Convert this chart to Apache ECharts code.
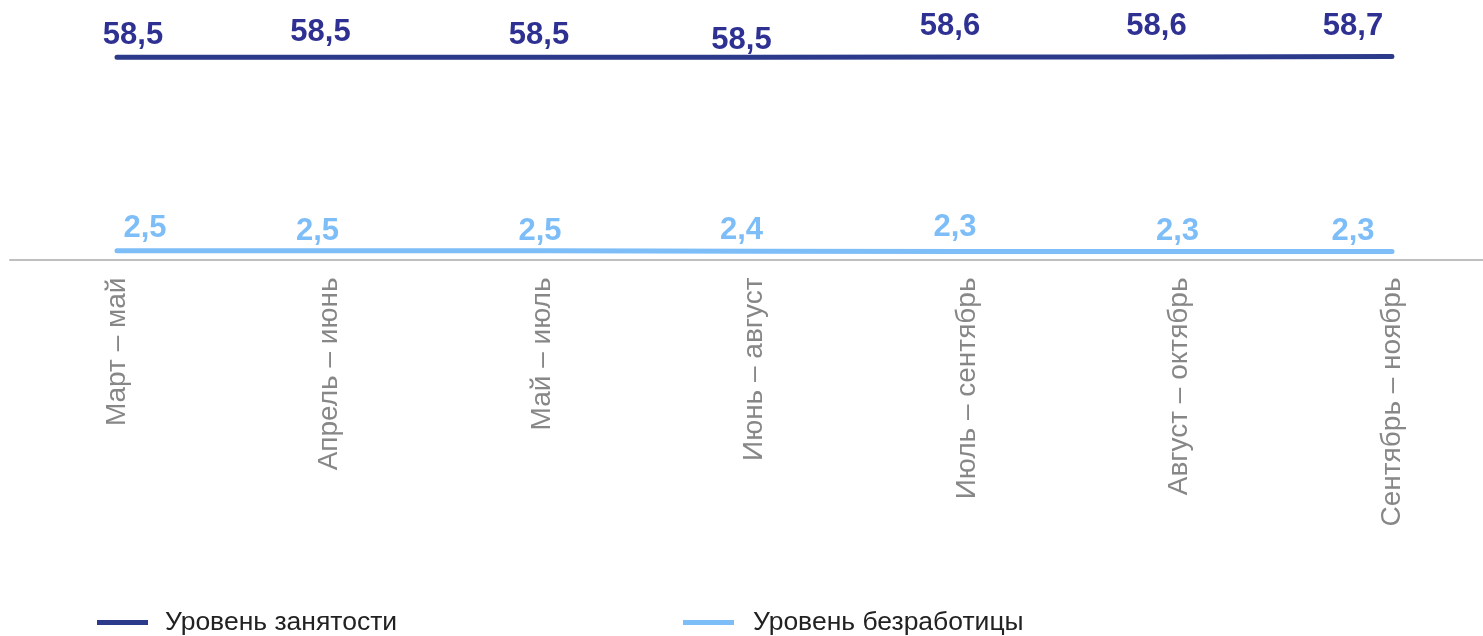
<!DOCTYPE html>
<html>
<head>
<meta charset="utf-8">
<script src="https://cdn.jsdelivr.net/npm/echarts@6/dist/echarts.min.js"></script>
<style>
html,body{margin:0;padding:0;background:#fff;}
#chart{width:1483px;height:636px;}
</style>
</head>
<body>
<div id="chart"></div>
<script>
// ---- data ----
const categories = ['Март – май','Апрель – июнь','Май – июль','Июнь – август','Июль – сентябрь','Август – октябрь','Сентябрь – ноябрь'];
const employment = [58.5, 58.5, 58.5, 58.5, 58.6, 58.6, 58.7];
const unemployment = [2.5, 2.5, 2.5, 2.4, 2.3, 2.3, 2.3];
const seriesNames = ['Уровень занятости', 'Уровень безработицы'];

// ---- label nudges (styling only) ----
const empLabelNudge = [[16,-22],[-9,-25],[-3,-22],[-13,-17],[-17,-30],[-23,-30],[-39,-30]];
const unempLabelNudge = [[28,-22],[-12,-19],[-2,-19],[-13,-21],[-12,-24],[-2,-20],[-39,-20]];

const darkLine = '#2C3A8B';
const darkLabel = '#2E3192';
const lightBlue = '#7DBDF8';
const FONT = 'Liberation Sans, Arial, sans-serif';

function fmt(v){ return v.toFixed(1).replace('.', ','); }
function buildData(values, nudges){
  return values.map((v,i)=>({value:v, label:{offset:nudges[i]}}));
}

const chart = echarts.init(document.getElementById('chart'), null, {renderer:'canvas'});
chart.setOption({
  animation:false,
  backgroundColor:'#fff',
  grid:[
    {left:117, right:91, top:40, bottom:376.5, containLabel:false},
    {left:10, right:0, top:40, bottom:376.5, containLabel:false}
  ],
  xAxis:[
    {
      type:'category', gridIndex:0, data:categories, boundaryGap:false,
      axisLine:{show:false}, axisTick:{show:false},
      axisLabel:{rotate:90, margin:18, color:'#878787', fontSize:28, fontFamily:FONT, interval:0}
    },
    {
      type:'category', gridIndex:1, data:categories, boundaryGap:false,
      axisLine:{show:true, lineStyle:{color:'#BFBFBF', width:2}},
      axisTick:{show:false}, axisLabel:{show:false}
    }
  ],
  yAxis:[
    {type:'value', gridIndex:0, min:0, max:63.5, show:false, splitLine:{show:false}},
    {type:'value', gridIndex:1, min:0, max:63.5, show:false, splitLine:{show:false}}
  ],
  legend:[
    {left:97, top:609, padding:0, itemWidth:51, itemHeight:5, icon:'rect', data:[seriesNames[0]],
     textStyle:{fontSize:26.5, color:'#222', fontFamily:FONT, padding:[0,0,0,12]}},
    {left:683, top:609, padding:0, itemWidth:51, itemHeight:5, icon:'rect', data:[seriesNames[1]],
     textStyle:{fontSize:26.5, color:'#222', fontFamily:FONT, padding:[0,0,0,14]}}
  ],
  series:[
    {
      name:seriesNames[0], type:'line', xAxisIndex:0, yAxisIndex:0,
      data:buildData(employment, empLabelNudge),
      symbol:'circle', symbolSize:1, showSymbol:true,
      lineStyle:{color:darkLine, width:5, cap:'round'},
      itemStyle:{color:darkLine},
      label:{show:true, position:'inside', color:darkLabel, fontSize:31, fontWeight:'bold',
        fontFamily:FONT, formatter:p=>fmt(p.value)}
    },
    {
      name:seriesNames[1], type:'line', xAxisIndex:0, yAxisIndex:0,
      data:buildData(unemployment, unempLabelNudge),
      symbol:'circle', symbolSize:1, showSymbol:true,
      lineStyle:{color:lightBlue, width:5, cap:'round'},
      itemStyle:{color:lightBlue},
      label:{show:true, position:'inside', color:lightBlue, fontSize:31, fontWeight:'bold',
        fontFamily:FONT, formatter:p=>fmt(p.value)}
    }
  ]
});
</script>
</body>
</html>
